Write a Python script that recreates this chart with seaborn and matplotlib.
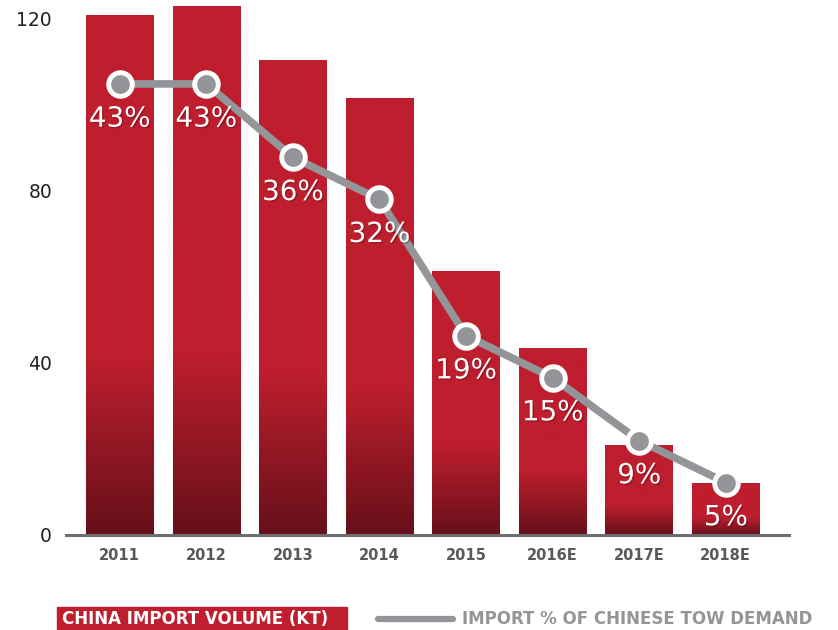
import numpy as np
import matplotlib
matplotlib.use("Agg")
import matplotlib.pyplot as plt
import matplotlib.patheffects as pe
from matplotlib.colors import LinearSegmentedColormap
from matplotlib.patches import Rectangle
from matplotlib.lines import Line2D
import seaborn as sns

# data
years = ["2011", "2012", "2013", "2014", "2015", "2016E", "2017E", "2018E"]
import_volume = [121, 123, 110.5, 101.5, 61.5, 43.5, 21, 12]
import_pct = [43, 43, 36, 32, 19, 15, 9, 5]
pct_labels = ["43%", "43%", "36%", "32%", "19%", "15%", "9%", "5%"]

RED = "#BE1E2D"
DARK = "#66101A"
GRAY = "#939598"
AXIS = "#6D6E71"

sns.set_theme(style="white")
plt.rcParams["font.family"] = ["DejaVu Sans"]

fig = plt.figure(figsize=(8.38, 6.3), dpi=100)
ax = fig.add_axes([66 / 838, 95 / 630, (789 - 66) / 838, 535 / 630])

sns.barplot(x=years, y=import_volume, color=RED, width=0.78, saturation=1, ax=ax)

# gradient on the lower third of every bar
cmap = LinearSegmentedColormap.from_list("bar", [DARK, RED])
grad = np.linspace(0, 1, 256)
grad = np.clip(grad / 0.34, 0, 1).reshape(-1, 1)
for p in ax.patches:
    x0, y0 = p.get_x(), p.get_y()
    w, h = p.get_width(), p.get_height()
    im = ax.imshow(grad, cmap=cmap, origin="lower", aspect="auto",
                   extent=[x0, x0 + w, y0, y0 + h], zorder=p.get_zorder() + 0.1)
    im.set_clip_path(p)

ax.set_xlim(-0.62, 7.73)
ax.set_ylim(0, 124.4)
ax.set_yticks([0, 40, 80, 120])
ax.tick_params(axis="y", length=0, pad=10, labelsize=13.5, labelcolor="#231F20")
ax.tick_params(axis="x", length=0, pad=9)
for lab in ax.get_xticklabels():
    lab.set_fontsize(10.5)
    lab.set_fontweight("bold")
    lab.set_color("#58595B")
for s in ["top", "right", "left"]:
    ax.spines[s].set_visible(False)
ax.spines["bottom"].set_color(AXIS)
ax.spines["bottom"].set_linewidth(2.2)

# import share line on a hidden secondary scale
ax2 = ax.twinx()
sns.lineplot(x=np.arange(len(years)), y=import_pct, ax=ax2, color=GRAY,
             linewidth=5.5, marker="o", markersize=17, markerfacecolor=GRAY,
             markeredgecolor="white", markeredgewidth=3.5, sort=False)
ax2.set_ylim(0, 51)
ax2.set_xlim(-0.62, 7.73)
ax2.axis("off")

for i, (v, t) in enumerate(zip(import_pct, pct_labels)):
    ax2.annotate(t, (i, v), xytext=(0, -25), textcoords="offset points",
                 ha="center", va="center", fontsize=20, color="white",
                 path_effects=[pe.SimplePatchShadow(offset=(1, -1), shadow_rgbFace="black", alpha=0.22),
                               pe.Normal()])

# legend drawn under the chart
fig.patches.append(Rectangle((57 / 838, 0), (347 - 57) / 838, 23 / 630,
                             transform=fig.transFigure, color=RED, zorder=0))
fig.text(62 / 838, 11.5 / 630, "CHINA IMPORT VOLUME (KT)", color="white",
         fontsize=12, fontweight="bold", va="center", ha="left")
fig.lines.append(Line2D([378 / 838, 453 / 838], [11 / 630, 11 / 630],
                        transform=fig.transFigure, color=GRAY, linewidth=4.5))
fig.text(462 / 838, 11.5 / 630, "IMPORT % OF CHINESE TOW DEMAND", color=GRAY,
         fontsize=12, fontweight="bold", va="center", ha="left")

fig.savefig("out.png", dpi=100)
